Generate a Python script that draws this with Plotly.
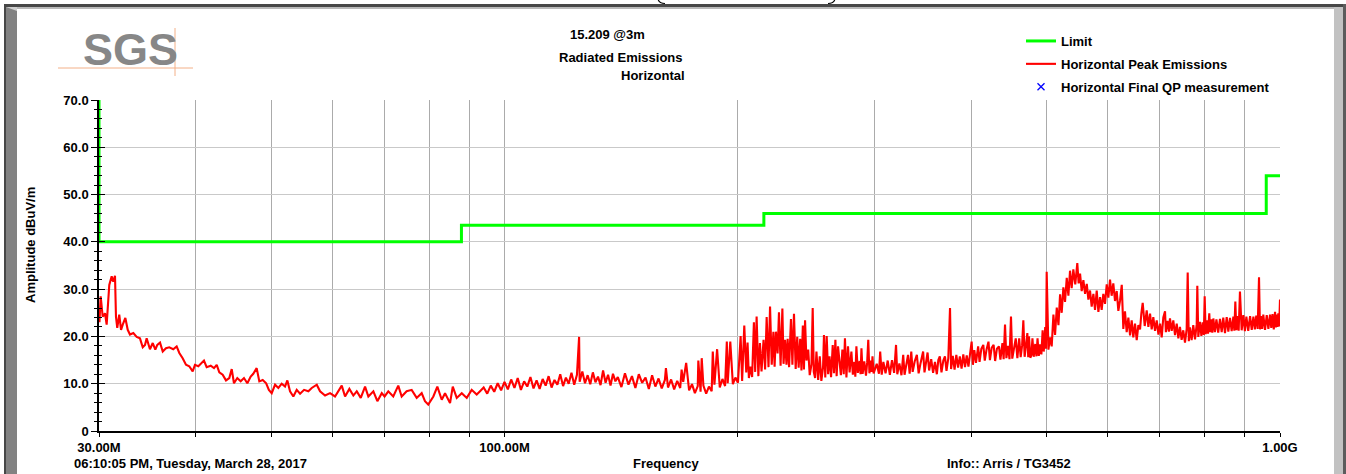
import math
import plotly.graph_objects as go

# ---------------------------------------------------------------- data
# Limit line (dBuV/m) vs frequency (MHz)
limit_freq_mhz = [30, 30, 88, 88, 216, 216, 960, 960, 1000]
limit_dbuv = [70, 40, 40, 43.5, 43.5, 46, 46, 54, 54]

# Horizontal peak sweep, 30 - 93 MHz
peak_freq_a = [
    30.00, 30.04, 30.15, 30.33, 30.54, 30.69, 30.93, 31.15, 31.30, 31.46,
    31.55, 31.67, 31.86, 32.03, 32.19, 32.44, 32.67, 32.89, 33.22, 33.55,
    33.88, 34.16, 34.39, 34.56, 34.90, 35.19, 35.46, 35.67, 35.96, 36.25,
    36.60, 36.96, 37.40, 37.78, 38.08, 38.46, 38.84, 39.22, 39.62, 39.89,
    40.29, 40.57, 40.97, 41.30, 41.80, 42.21, 42.55, 42.88, 43.31, 43.74,
    44.17, 44.49, 44.79, 45.23, 45.69, 46.14, 46.60, 47.07, 47.43, 47.91,
    48.29, 48.78, 49.28, 49.68,
    50.10, 50.60, 51.10, 51.61, 52.12, 52.48, 52.90, 53.42, 53.96, 54.50,
    55.15, 55.86, 56.42, 57.27, 57.83, 58.70, 59.57,
    60.46, 61.06, 61.68, 62.29, 63.09, 63.84, 64.49, 65.26, 66.10, 66.75,
    67.75, 68.56, 69.46,
    70.04, 70.82, 71.87, 72.95, 73.69, 74.79, 75.91, 77.05, 78.20, 78.97, 79.74,
    80.96, 81.92, 83.00, 83.82, 85.07, 85.76, 86.78, 88.08, 89.40,
    90.72, 92.08, 92.99,
]
peak_dbuv_a = [
    26.0, 23.0, 28.5, 24.2, 24.9, 22.5, 30.9, 32.7, 31.6, 32.8,
    24.2, 21.8, 24.6, 21.4, 22.5, 23.9, 21.4, 20.4, 20.7, 19.9,
    19.6, 17.7, 18.2, 19.6, 17.3, 18.6, 17.2, 18.2, 18.7, 16.8,
    17.5, 17.7, 17.3, 17.9, 16.5, 15.4, 14.0, 13.7, 12.6, 14.0,
    13.7, 14.2, 14.9, 13.5, 13.8, 13.3, 14.0, 12.4, 11.9, 10.7,
    11.2, 13.1, 10.1, 11.2, 10.5, 11.2, 10.1, 11.5, 12.1, 13.3,
    10.5, 10.8, 10.1, 8.7,
    8.0, 9.8, 9.1, 10.0, 9.4, 10.7, 8.4, 7.3, 8.7, 7.9,
    8.7, 8.4, 9.1, 9.8, 8.4, 7.5, 8.0,
    7.3, 8.4, 9.6, 7.3, 8.9, 7.5, 8.4, 7.0, 9.4, 7.3,
    8.4, 6.3, 8.0,
    7.3, 8.4, 7.3, 9.6, 7.3, 8.4, 8.7, 7.0, 8.0, 6.3, 5.6,
    7.3, 9.4, 6.6, 8.0, 5.9, 9.4, 7.0, 8.0, 7.0,
    8.7, 7.7, 8.4,
]

# Horizontal peak sweep, 94 - 200 MHz
peak_freq_b = [
    94, 95, 96, 97, 98, 99, 100,
    101, 102, 103, 104, 105, 106, 107, 108, 109, 110,
    111, 112, 113, 114, 115, 116, 117, 118, 119, 120,
    121, 122, 123, 124, 124.8, 125, 126, 127, 128, 129, 130,
    131, 132, 133, 134, 135, 136, 137, 138, 139, 140,
    141.5, 143, 144.5, 146, 147.5, 149, 150.5, 152, 153.5, 155,
    156.5, 158, 159.5, 161, 161.5, 162.5, 164, 165.5, 167, 168.5, 169.2, 170,
    171.5, 173, 174.5, 176, 177.5, 177.8, 179, 179.6, 180.5, 182, 183.5, 185,
    185.6, 186.5, 188, 189.5, 191, 192.5, 193.5, 194, 195.5, 197, 198.5, 200,
]
peak_dbuv_b = [
    9.2, 7.9, 9.6, 8.3, 10.1, 8.6, 10.4,
    8.8, 10.9, 9.1, 11.2, 8.7, 10.5, 9.4, 11.4, 9.0, 10.7,
    8.9, 11.0, 9.6, 11.6, 9.2, 10.8, 9.8, 12.0, 9.5, 11.3,
    10.0, 12.3, 9.8, 11.9, 19.9, 10.4, 12.6, 10.1, 11.8, 9.9, 12.4,
    10.3, 11.5, 9.7, 12.8, 10.2, 11.9, 9.6, 12.1, 10.5, 11.4,
    9.3, 12.2, 9.8, 11.6, 9.1, 12.0, 10.2, 11.3, 8.9, 11.8,
    9.4, 11.1, 9.0, 10.8, 13.3, 9.2, 10.9, 8.8, 10.6, 9.1, 13.0, 10.4,
    14.4, 8.6, 9.9, 8.0, 9.5, 14.9, 8.3, 15.4, 9.6, 7.9, 9.4, 8.4,
    16.8, 9.8, 17.3, 9.2, 11.0, 9.5, 18.9, 10.1, 18.9, 9.9, 11.3, 10.2,
]

# Horizontal peak sweep, 200 - 300 MHz
peak_freq_c = [
    201.6, 202.5, 203.8, 205.0, 205.8, 206.6, 207.5, 208.6, 209.7, 210.5,
    211.4, 212.5, 213.5, 214.5, 215.8, 216.8, 217.8, 219.0, 220.0, 221.1,
    222.2, 223.0, 223.9, 225.0, 225.9, 227.0, 228.2, 229.0, 230.0, 231.0,
    231.8, 232.8, 234.1, 235.1, 236.2, 237.4, 238.5, 239.5, 240.6, 241.5,
    242.5, 243.3, 244.1, 245.1, 246.4, 247.5, 248.8, 249.7, 250.5, 251.5,
    252.5, 253.8, 255.0, 256.2, 257.5, 258.2, 259.2, 260.3, 261.4, 262.5,
    263.7, 265.0, 266.0, 267.1, 268.1, 269.2, 270.5, 271.5, 272.7, 273.8,
    274.8, 276.0, 277.3, 278.6, 280.1, 281.3, 282.5, 283.4, 284.3, 285.5,
    287.0, 287.8, 288.6, 289.6, 291.0, 292.5, 293.5, 294.5, 295.5, 296.8,
    297.5, 298.2, 299.2,
]
peak_dbuv_c = [
    20.1, 10.6, 22.3, 12.4, 18.7, 11.2, 13.6, 11.4, 23.0, 12.5,
    24.2, 11.6, 18.6, 12.6, 19.3, 13.0, 24.1, 13.5, 26.3, 14.0,
    21.0, 13.6, 21.0, 16.4, 25.1, 13.8, 25.9, 14.2, 19.3, 14.0,
    19.5, 13.5, 23.7, 14.0, 24.8, 13.1, 19.9, 13.4, 19.5, 12.8,
    22.3, 13.0, 23.4, 14.9, 17.2, 11.8, 14.1, 26.0, 12.5, 11.2,
    16.8, 10.8, 15.8, 10.6, 13.5, 20.3, 11.3, 20.1, 12.0, 15.8,
    11.4, 18.2, 12.2, 19.3, 11.6, 17.9, 14.6, 11.8, 17.2, 12.0,
    19.6, 11.3, 17.9, 12.4, 16.8, 11.9, 14.6, 11.5, 17.9, 12.3,
    14.8, 12.0, 17.5, 12.1, 14.7, 11.7, 14.4, 19.3, 12.2, 14.9,
    12.5, 15.8, 12.2,
]

# Horizontal peak sweep, 300 - 500 MHz
peak_freq_d = [
    302.0, 304.0, 305.1, 306.5, 308.0, 310.0, 312.0, 314.0, 316.0, 318.0,
    319.8, 321.0, 323.0, 325.0, 326.7, 328.0, 330.0, 331.4, 333.0, 334.6,
    336.0, 338.0, 340.2, 342.0, 344.0, 346.6, 348.0, 349.6, 351.2, 352.8,
    355.0, 357.0, 359.0, 361.0, 362.6, 364.2, 366.0, 368.0, 369.8, 371.5,
    373.5, 375.4, 376.6, 378.5, 380.5, 382.5, 384.5, 386.5, 388.5, 390.5,
    392.5, 394.5, 396.5, 398.5, 400.3, 401.8, 403.5, 405.5, 408.1, 409.8,
    412.0, 414.4, 416.2, 418.5, 420.8, 422.6, 424.8, 427.3, 429.2, 431.5,
    434.1, 436.0, 438.6, 440.2, 442.0, 443.8, 446.0, 447.9, 449.9, 451.6,
    454.0, 456.3, 458.5, 461.0, 463.0, 465.0, 466.7, 468.5, 470.5, 472.3,
    473.5, 474.6, 476.5, 478.0, 479.5, 481.3, 483.5, 485.2, 486.8, 488.6,
    490.5, 492.4, 494.2, 495.8, 497.0, 498.0, 499.2, 500.2,
]
peak_dbuv_d = [
    14.2, 12.1, 16.8, 11.9, 14.6, 12.2, 14.9, 11.9, 15.0, 12.3,
    18.2, 12.0, 14.3, 11.8, 16.1, 11.9, 14.5, 16.1, 12.1, 16.8,
    12.5, 14.7, 16.1, 12.2, 14.4, 16.8, 12.4, 14.5, 16.6, 12.8,
    15.2, 12.3, 14.6, 12.0, 15.0, 15.8, 12.4, 14.9, 15.8, 12.7,
    15.4, 26.0, 13.1, 15.9, 13.0, 16.1, 13.4, 15.8, 13.2, 16.2,
    13.5, 16.0, 13.6, 16.4, 18.9, 14.0, 17.1, 14.4, 17.9, 14.6,
    17.4, 18.2, 14.9, 17.3, 18.9, 15.0, 17.6, 18.2, 14.8, 17.4,
    17.9, 15.1, 18.6, 15.2, 22.5, 15.4, 18.0, 15.2, 24.2, 15.3,
    17.9, 19.6, 15.4, 19.6, 15.6, 18.1, 23.4, 15.7, 18.3, 20.7,
    15.6, 20.0, 15.5, 16.0, 19.6, 15.7, 18.4, 15.8, 19.6, 15.9,
    18.3, 16.2, 21.3, 16.8, 19.0, 22.0, 17.4, 33.7,
]

# Horizontal peak sweep, 500 MHz - 1 GHz
peak_freq_e = [
    502.8, 505.2, 507.7, 510.3, 512.8, 515.4, 518.0, 520.5, 523.0, 525.6,
    528.2, 530.9, 533.5, 536.1, 538.7, 541.4, 544.5, 547.8, 550.0, 552.3,
    555.0, 557.8, 560.6, 563.4, 566.1, 568.9, 571.7, 574.6, 577.4, 580.3,
    583.2, 586.1, 588.9, 591.8, 594.8, 597.8, 600.7, 603.7, 606.6, 609.6,
    612.7, 615.8, 618.8, 621.9, 625.1, 628.0, 631.1, 634.3, 637.5, 640.7,
    643.8, 646.9, 650.2, 653.5, 656.7, 660.0, 662.5, 665.2, 669.2, 673.2,
    676.5, 679.9, 683.2, 686.5, 690.0, 693.5, 697.0, 700.4, 703.8, 707.2,
    710.8, 712.6, 716.0, 719.0, 721.3, 725.0, 728.5, 732.2, 735.9, 739.5,
    743.0, 746.7, 750.4, 754.2, 758.0, 760.3, 762.8, 765.4, 769.2, 773.0,
    777.0, 780.9, 782.3, 784.6, 788.5, 791.8, 795.0, 797.5, 799.6, 802.0,
    804.4, 807.5, 810.6, 812.8, 815.5, 818.0, 820.4, 824.3, 828.0, 832.4,
    836.8, 841.0, 845.0, 849.3, 853.6, 857.8, 862.0, 866.3, 870.7, 873.2,
    875.8, 878.4, 881.0, 884.5, 887.9, 892.4, 896.9, 901.0, 905.0, 910.0,
    915.0, 919.5, 924.1, 928.0, 932.0, 935.8, 939.6, 942.3, 945.0, 948.3,
    951.6, 956.5, 961.4, 966.1, 970.8, 974.4, 978.0, 981.7, 985.4, 987.7,
    990.0, 992.5, 995.0, 997.5, 1000.0,
]
peak_dbuv_e = [
    17.2, 19.8, 17.9, 24.6, 20.3, 26.1, 22.4, 28.9, 25.0, 30.4,
    27.3, 32.4, 28.6, 33.9, 30.2, 34.2, 31.0, 35.5, 31.2, 33.3,
    29.6, 31.9, 29.0, 31.1, 27.8, 29.7, 26.3, 29.0, 25.6, 29.7,
    25.2, 28.3, 25.6, 29.0, 26.9, 31.0, 28.2, 32.0, 28.6, 31.2,
    27.5, 29.6, 25.4, 27.6, 30.9, 21.6, 25.3, 20.9, 24.0, 20.2,
    23.4, 19.8, 22.7, 19.2, 22.4, 21.5, 24.8, 27.1, 22.2, 25.5,
    22.0, 24.8, 21.5, 24.1, 21.2, 23.4, 20.4, 22.7, 19.8, 24.0,
    25.3, 20.9, 23.3, 21.0, 23.8, 21.2, 23.4, 20.3, 22.7, 19.6,
    22.0, 19.3, 21.3, 18.7, 21.6, 33.5, 19.0, 21.9, 19.2, 22.4,
    19.4, 22.6, 30.7, 19.9, 23.1, 20.1, 23.0, 20.3, 28.5, 20.5,
    23.4, 20.6, 24.9, 20.9, 23.6, 20.8, 23.8, 20.9, 23.6, 20.8,
    23.7, 20.9, 24.0, 20.7, 24.1, 21.0, 23.9, 21.1, 24.2, 21.2,
    27.4, 21.3, 24.3, 21.2, 29.5, 21.3, 24.5, 21.1, 24.2, 21.2,
    24.3, 21.4, 24.2, 21.5, 24.4, 21.6, 32.5, 21.5, 24.3, 21.6,
    24.6, 21.4, 24.5, 21.6, 24.6, 21.8, 24.7, 21.5, 25.2, 21.9,
    24.6, 22.0, 24.9, 22.1, 27.8,
]

# Final quasi-peak results (none recorded for this sweep)
qp_freq_mhz = []
qp_dbuv = []

peak_freq_mhz = peak_freq_a + peak_freq_b + peak_freq_c + peak_freq_d + peak_freq_e
peak_dbuv = peak_dbuv_a + peak_dbuv_b + peak_dbuv_c + peak_dbuv_d + peak_dbuv_e

x_grid_mhz = [30, 40, 50, 60, 70, 80, 90, 100, 200, 300, 400, 500, 600, 700, 800, 900, 1000]
x_tick_text = ["30.00M", "", "", "", "", "", "", "100.00M", "", "", "", "", "", "", "", "", "1.00G"]
y_tick_vals = [0, 10, 20, 30, 40, 50, 60, 70]
y_tick_text = ["0", "10.0", "20.0", "30.0", "40.0", "50.0", "60.0", "70.0"]

# ---------------------------------------------------------------- layout helpers
W, H = 1346, 474
ML, MR, MT, MB = 99, 66, 100, 43
PW, PH = W - ML - MR, H - MT - MB
FONT = "Liberation Sans, Arial, sans-serif"


def fx(x):
    """page pixel column -> paper fraction"""
    return (x - ML) / PW


def fy(y):
    """page pixel row -> paper fraction"""
    return (H - MB - y) / PH


def rect(x0, y0, x1, y1, color):
    return dict(type="rect", xref="paper", yref="paper", x0=fx(x0), x1=fx(x1),
                y0=fy(y0), y1=fy(y1), fillcolor=color, line=dict(width=0), layer="above")


def line(x0, y0, x1, y1, color, width=1):
    return dict(type="line", xref="paper", yref="paper", x0=fx(x0), x1=fx(x1),
                y0=fy(y0), y1=fy(y1), line=dict(color=color, width=width), layer="above")


def label(text, x, y, size=13, xanchor="center", color="black", family=FONT, angle=0):
    return dict(text=text, xref="paper", yref="paper", x=fx(x), y=fy(y),
                xanchor=xanchor, yanchor="middle", showarrow=False, textangle=angle,
                font=dict(family=family, size=size, color=color, weight="bold"))


# ---------------------------------------------------------------- figure
fig = go.Figure()

fig.add_trace(go.Scatter(
    x=peak_freq_mhz, y=peak_dbuv, mode="lines", name="Horizontal Peak Emissions",
    line=dict(color="#ff0000", width=2.1), legendrank=2, legendgroup="peak",
))
fig.add_trace(go.Scatter(
    x=limit_freq_mhz, y=limit_dbuv, mode="lines", name="Limit",
    line=dict(color="#00ff00", width=3), cliponaxis=False,
    legendrank=1, legendgroup="limit",
))
# an empty series still needs a placeholder entry so its legend key is drawn
fig.add_trace(go.Scatter(
    x=qp_freq_mhz or [None], y=qp_dbuv or [None], mode="markers",
    name="Horizontal Final QP measurement",
    marker=dict(symbol="x-thin", size=7, color="#0000ff", line=dict(color="#0000ff", width=1.3)),
    legendrank=3, legendgroup="qp", yaxis="y2",
))

tick_font = dict(family=FONT, size=13, color="black", weight="bold")

fig.update_layout(
    width=W, height=H,
    margin=dict(l=ML, r=MR, t=MT, b=MB),
    paper_bgcolor="white", plot_bgcolor="white",
    font=dict(family=FONT, color="black"),
    xaxis=dict(
        type="log", range=[math.log10(30), math.log10(1000)],
        tickmode="array", tickvals=x_grid_mhz, ticktext=x_tick_text,
        showgrid=True, gridcolor="#ababab", gridwidth=1,
        ticks="outside", ticklen=4, tickwidth=1, tickcolor="black",
        showline=True, linecolor="black", linewidth=1.5,
        zeroline=False, tickfont=tick_font, layer="below traces",
    ),
    yaxis=dict(
        range=[0, 70], tickmode="array", tickvals=y_tick_vals, ticktext=y_tick_text,
        showgrid=True, gridcolor="#c9c9c9", gridwidth=1.2,
        ticks="outside", ticklen=6, tickwidth=1.2, tickcolor="black",
        minor=dict(dtick=2, tick0=0, ticks="outside", ticklen=3, tickcolor="black",
                   tickwidth=1.2, showgrid=False),
        showline=True, linecolor="black", linewidth=1.5,
        zeroline=False, tickfont=tick_font, layer="below traces",
    ),
    yaxis2=dict(
        range=[0, 70], overlaying="y", side="left",
        tickmode="array", tickvals=y_tick_vals,
        ticks="inside", ticklen=6, tickwidth=1.2, tickcolor="black",
        minor=dict(dtick=2, tick0=0, ticks="inside", ticklen=3, tickcolor="black",
                   tickwidth=1.2, showgrid=False),
        showticklabels=False, showgrid=False, showline=False, zeroline=False,
    ),
    legend=dict(
        x=fx(1021), y=fy(26), xanchor="left", yanchor="top",
        bgcolor="rgba(0,0,0,0)", tracegroupgap=3, itemwidth=30,
        font=dict(family=FONT, size=13, color="black", weight="bold"),
    ),
    showlegend=True,
)

# window frame around the chart
shapes = [
    rect(4, 4, 1346, 7, "#474747"),
    rect(6, 7, 1334, 9, "#b9b9b9"),
    rect(4, 4, 6, 474, "#474747"),
    rect(6, 7, 17, 474, "#828282"),
    rect(1334, 7, 1343, 474, "#c2c2c2"),
    rect(1343, 4, 1346, 474, "#5c5c5c"),
    dict(type="path", xref="paper", yref="paper", layer="above",
         path=f"M {fx(6)},{fy(7)} L {fx(17)},{fy(7)} L {fx(17)},{fy(11)} Z",
         fillcolor="#cfcfcf", line=dict(width=0)),
    dict(type="path", xref="paper", yref="paper", layer="above",
         path=f"M {fx(658)},{fy(-1)} Q {fx(659)},{fy(3.5)} {fx(665)},{fy(3.5)}",
         line=dict(color="black", width=1.2)),
    dict(type="path", xref="paper", yref="paper", layer="above",
         path=f"M {fx(835)},{fy(-1)} Q {fx(834)},{fy(3.5)} {fx(828)},{fy(3.5)}",
         line=dict(color="black", width=1.2)),
    # SGS logo rules
    line(58, 68, 193, 68, "#f3b088", 1),
    line(175, 28, 175, 76, "#f3b088", 1),
]
fig.update_layout(shapes=shapes)

annotations = [
    label("SGS", 130, 49, size=45, color="#878787", family=FONT),
    label("15.209 @3m", 607, 34),
    label("Radiated Emissions", 621, 57),
    label("Horizontal", 687, 75, xanchor="right"),
    label("Amplitude dBuV/m", 30, 245, angle=-90),
    label("06:10:05 PM, Tuesday, March 28, 2017", 72, 463, xanchor="left"),
    label("Frequency", 666, 463),
    label("Info:: Arris / TG3452", 945, 463, xanchor="left"),
]
fig.update_layout(annotations=annotations)

fig.write_html("out.html")
